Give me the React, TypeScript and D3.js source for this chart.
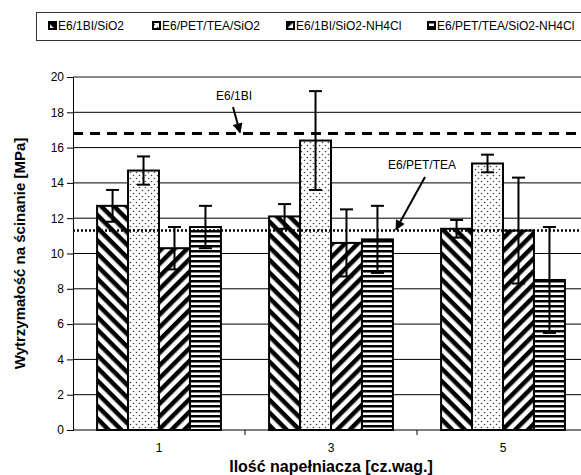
import React, { useEffect, useRef } from 'react';
import * as d3 from 'd3';

// Data
const categories = ['1', '3', '5'];
const seriesNames = ['E6/1BI/SiO2', 'E6/PET/TEA/SiO2', 'E6/1BI/SiO2-NH4Cl', 'E6/PET/TEA/SiO2-NH4Cl'];
const s1Values = [12.7, 12.1, 11.4];
const s1Errors = [0.9, 0.7, 0.5];
const s2Values = [14.7, 16.4, 15.1];
const s2Errors = [0.8, 2.8, 0.5];
const s3Values = [10.3, 10.6, 11.3];
const s3Errors = [1.2, 1.9, 3.0];
const s4Values = [11.5, 10.8, 8.5];
const s4Errors = [1.2, 1.9, 3.0];
const yTicks = [0, 2, 4, 6, 8, 10, 12, 14, 16, 18, 20];
const refLabels = ['E6/1BI', 'E6/PET/TEA'];
const refValues = [16.8, 11.3];

const App = () => {
  const svgRef = useRef<SVGSVGElement>(null);

  useEffect(() => {
    const svg = d3.select(svgRef.current);
    svg.selectAll('*').remove();

    const width = 581;
    const height = 475;
    const margin = { top: 77, right: -8, bottom: 45, left: 73 };
    const font = 'Arial, "Liberation Sans", sans-serif';

    const allValues = [s1Values, s2Values, s3Values, s4Values];
    const allErrors = [s1Errors, s2Errors, s3Errors, s4Errors];
    const rows = seriesNames.flatMap((name, si) =>
      categories.map((cat, ci) => ({ name, si, cat, value: allValues[si][ci], err: allErrors[si][ci] }))
    );

    const x = d3.scaleBand()
      .domain(categories)
      .range([margin.left, width - margin.right])
      .paddingInner(0.28)
      .paddingOuter(0.14);

    const xs = d3.scaleBand()
      .domain(seriesNames)
      .range([0, x.bandwidth()]);

    const y = d3.scaleLinear()
      .domain([0, 20])
      .range([height - margin.bottom, margin.top]);

    // Patterns for the bars
    const defs = svg.append('defs');
    const stripe = (id, angle, size) => {
      const p = defs.append('pattern')
        .attr('id', id)
        .attr('patternUnits', 'userSpaceOnUse')
        .attr('width', size)
        .attr('height', size)
        .attr('patternTransform', `rotate(${angle})`);
      p.append('rect').attr('width', size).attr('height', size).attr('fill', '#fff');
      p.append('rect').attr('width', size).attr('height', size / 2).attr('fill', '#000');
    };
    stripe('pat0', 45, 9);
    stripe('pat2', -45, 9);
    stripe('pat3', 0, 5);
    const dots = defs.append('pattern')
      .attr('id', 'pat1')
      .attr('patternUnits', 'userSpaceOnUse')
      .attr('width', 6)
      .attr('height', 6);
    dots.append('rect').attr('width', 6).attr('height', 6).attr('fill', '#fff');
    dots.append('circle').attr('cx', 1.5).attr('cy', 1.5).attr('r', 0.8).attr('fill', '#444');
    dots.append('circle').attr('cx', 4.5).attr('cy', 4.5).attr('r', 0.8).attr('fill', '#444');

    const arrow = defs.append('marker')
      .attr('id', 'arrow')
      .attr('viewBox', '0 0 10 10')
      .attr('refX', 9)
      .attr('refY', 5)
      .attr('markerUnits', 'userSpaceOnUse')
      .attr('markerWidth', 11)
      .attr('markerHeight', 10)
      .attr('orient', 'auto');
    arrow.append('path').attr('d', 'M0,0L10,5L0,10Z').attr('fill', '#000');

    // Gridlines
    svg.append('g')
      .selectAll('line')
      .data(yTicks.filter(d => d > 0 && d < 20))
      .join('line')
      .attr('x1', margin.left)
      .attr('x2', width)
      .attr('y1', d => y(d))
      .attr('y2', d => y(d))
      .attr('stroke', '#000')
      .attr('stroke-width', 1);

    // Top border of plot area
    svg.append('line')
      .attr('x1', margin.left)
      .attr('x2', width)
      .attr('y1', y(20))
      .attr('y2', y(20))
      .attr('stroke', '#888')
      .attr('stroke-width', 2);

    // Y axis
    const yAxis = svg.append('g')
      .attr('transform', `translate(${margin.left},0)`)
      .call(d3.axisLeft(y).tickValues(yTicks).tickSize(6).tickPadding(3).tickSizeOuter(0));
    yAxis.select('.domain').attr('stroke', '#000');
    yAxis.selectAll('text').style('font-size', '12px').style('font-family', font).attr('fill', '#000');

    // X axis
    const xAxis = svg.append('g')
      .attr('transform', `translate(0,${y(0)})`)
      .call(d3.axisBottom(x).tickSize(0).tickPadding(13).tickSizeOuter(0));
    xAxis.select('.domain').remove();
    xAxis.selectAll('text').style('font-size', '12px').style('font-family', font).attr('fill', '#000');
    svg.append('line')
      .attr('x1', margin.left)
      .attr('x2', width)
      .attr('y1', y(0))
      .attr('y2', y(0))
      .attr('stroke', '#000');
    svg.append('g')
      .selectAll('line')
      .data(categories.slice(1))
      .join('line')
      .attr('x1', d => x(d) - x.step() * 0.14)
      .attr('x2', d => x(d) - x.step() * 0.14)
      .attr('y1', y(0))
      .attr('y2', y(0) + 5)
      .attr('stroke', '#000');

    // Bars
    svg.append('g')
      .selectAll('rect')
      .data(rows)
      .join('rect')
      .attr('x', d => x(d.cat) + xs(d.name))
      .attr('y', d => y(d.value))
      .attr('width', xs.bandwidth())
      .attr('height', d => y(0) - y(d.value))
      .attr('fill', d => `url(#pat${d.si})`)
      .attr('stroke', '#000')
      .attr('stroke-width', 2);

    // Reference lines
    svg.append('line')
      .attr('x1', margin.left)
      .attr('x2', width)
      .attr('y1', y(refValues[0]))
      .attr('y2', y(refValues[0]))
      .attr('stroke', '#000')
      .attr('stroke-width', 3)
      .attr('stroke-dasharray', '10,7');
    svg.append('line')
      .attr('x1', margin.left)
      .attr('x2', width)
      .attr('y1', y(refValues[1]))
      .attr('y2', y(refValues[1]))
      .attr('stroke', '#000')
      .attr('stroke-width', 2.5)
      .attr('stroke-dasharray', '2,2');

    // Error bars
    const cap = 6.5;
    const eb = svg.append('g').attr('stroke', '#000').attr('stroke-width', 2);
    rows.forEach(d => {
      const cx = x(d.cat) + xs(d.name) + xs.bandwidth() / 2;
      eb.append('line').attr('x1', cx).attr('x2', cx).attr('y1', y(d.value + d.err)).attr('y2', y(d.value - d.err));
      eb.append('line').attr('x1', cx - cap).attr('x2', cx + cap).attr('y1', y(d.value + d.err)).attr('y2', y(d.value + d.err));
      eb.append('line').attr('x1', cx - cap).attr('x2', cx + cap).attr('y1', y(d.value - d.err)).attr('y2', y(d.value - d.err));
    });

    // Annotations
    const notes = [
      { text: refLabels[0], tx: 234, ty: 100, x1: 233, y1: 107, x2: 240, y2: y(refValues[0]) - 1 },
      { text: refLabels[1], tx: 422, ty: 169, x1: 425, y1: 177, x2: 396, y2: y(refValues[1]) - 1 },
    ];
    notes.forEach(n => {
      svg.append('text')
        .attr('x', n.tx)
        .attr('y', n.ty)
        .attr('text-anchor', 'middle')
        .style('font-family', font)
        .style('font-size', '12px')
        .text(n.text);
      svg.append('line')
        .attr('x1', n.x1).attr('y1', n.y1)
        .attr('x2', n.x2).attr('y2', n.y2)
        .attr('stroke', '#000')
        .attr('stroke-width', 2)
        .attr('marker-end', 'url(#arrow)');
    });

    // Legend
    const legendX = [58, 162, 296, 437];
    svg.append('rect')
      .attr('x', 36.5)
      .attr('y', 12.5)
      .attr('width', 600)
      .attr('height', 28)
      .attr('fill', 'none')
      .attr('stroke', '#333');
    const lg = svg.append('g')
      .selectAll('g')
      .data(seriesNames)
      .join('g')
      .attr('transform', (d, i) => `translate(${legendX[i]},26)`);
    lg.append('rect')
      .attr('x', -9)
      .attr('y', -4)
      .attr('width', 7)
      .attr('height', 7)
      .attr('fill', (d, i) => `url(#pat${i})`)
      .attr('stroke', '#000')
      .attr('stroke-width', 2);
    lg.append('text')
      .attr('y', 4)
      .style('font-family', font)
      .style('font-size', '12px')
      .text(d => d);

    // Axis titles
    svg.append('text')
      .attr('transform', 'rotate(-90)')
      .attr('x', -(y(0) + y(20)) / 2)
      .attr('y', 25)
      .attr('text-anchor', 'middle')
      .style('font-family', font)
      .style('font-size', '15px')
      .style('font-weight', 'bold')
      .text('Wytrzymałość na ścinanie [MPa]');
    svg.append('text')
      .attr('x', (margin.left + 589) / 2)
      .attr('y', 472)
      .attr('text-anchor', 'middle')
      .style('font-family', font)
      .style('font-size', '16px')
      .style('font-weight', 'bold')
      .text('Ilość napełniacza [cz.wag.]');
  }, []);

  return (
    <svg
      ref={svgRef}
      width="581"
      height="475"
      style={{ position: 'absolute', left: 0, top: 0, background: '#fff' }}
    ></svg>
  );
};

export default App;
